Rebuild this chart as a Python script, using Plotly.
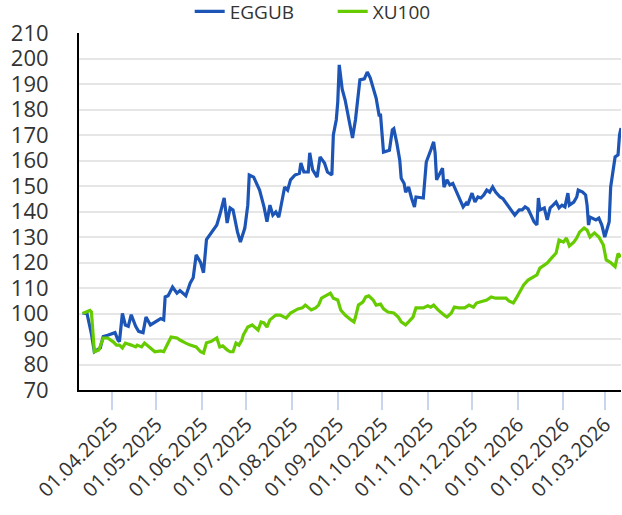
import plotly.graph_objects as go

eggub_dates = [
    "2025-03-12", "2025-03-15", "2025-03-18", "2025-03-20", "2025-03-24", "2025-03-26", "2025-03-29",
    "2025-04-03", "2025-04-05", "2025-04-06", "2025-04-08", "2025-04-10", "2025-04-12", "2025-04-14",
    "2025-04-17", "2025-04-19", "2025-04-22", "2025-04-24", "2025-04-27", "2025-04-30",
    "2025-05-04", "2025-05-06", "2025-05-07", "2025-05-09", "2025-05-12", "2025-05-15", "2025-05-17",
    "2025-05-21", "2025-05-24", "2025-05-26", "2025-05-28", "2025-05-31",
    "2025-06-02", "2025-06-04", "2025-06-07", "2025-06-11", "2025-06-13", "2025-06-16", "2025-06-18",
    "2025-06-20", "2025-06-22", "2025-06-25", "2025-06-27", "2025-06-30",
    "2025-07-02", "2025-07-03", "2025-07-06", "2025-07-09", "2025-07-10", "2025-07-13", "2025-07-15",
    "2025-07-17", "2025-07-19", "2025-07-21", "2025-07-23", "2025-07-24", "2025-07-27", "2025-07-29",
    "2025-07-31",
    "2025-08-03", "2025-08-06", "2025-08-07", "2025-08-09", "2025-08-12", "2025-08-13", "2025-08-15",
    "2025-08-18", "2025-08-20", "2025-08-23", "2025-08-25", "2025-08-28", "2025-08-29", "2025-08-31",
    "2025-09-01", "2025-09-02", "2025-09-04", "2025-09-06", "2025-09-09", "2025-09-11", "2025-09-13",
    "2025-09-16", "2025-09-19", "2025-09-21", "2025-09-23", "2025-09-27", "2025-09-29", "2025-09-30",
    "2025-10-02", "2025-10-06", "2025-10-08", "2025-10-09", "2025-10-11", "2025-10-13", "2025-10-14",
    "2025-10-16", "2025-10-17", "2025-10-19", "2025-10-21", "2025-10-23", "2025-10-24", "2025-10-29",
    "2025-10-31",
    "2025-11-02", "2025-11-03", "2025-11-05", "2025-11-06", "2025-11-07", "2025-11-09", "2025-11-11",
    "2025-11-12", "2025-11-14", "2025-11-16", "2025-11-18", "2025-11-20", "2025-11-22", "2025-11-25",
    "2025-11-27", "2025-11-28",
    "2025-12-01", "2025-12-03", "2025-12-05", "2025-12-07", "2025-12-09", "2025-12-11", "2025-12-13",
    "2025-12-15", "2025-12-17", "2025-12-20", "2025-12-22", "2025-12-26", "2025-12-28", "2025-12-30",
    "2026-01-02", "2026-01-04", "2026-01-06", "2026-01-08", "2026-01-10", "2026-01-12", "2026-01-14",
    "2026-01-15", "2026-01-16", "2026-01-19", "2026-01-21", "2026-01-23", "2026-01-25", "2026-01-27",
    "2026-01-29", "2026-01-31",
    "2026-02-02", "2026-02-04", "2026-02-05", "2026-02-08", "2026-02-10", "2026-02-11", "2026-02-14",
    "2026-02-16", "2026-02-17", "2026-02-18", "2026-02-19", "2026-02-21", "2026-02-23", "2026-02-25",
    "2026-02-27",
    "2026-03-01", "2026-03-03", "2026-03-04", "2026-03-05", "2026-03-07", "2026-03-08", "2026-03-10",
    "2026-03-11", "2026-03-12",
]
eggub_values = [
    100, 100, 92, 85, 86.5, 91, 91.5,
    92.5, 89.6, 89, 100, 95.5, 95, 99.5,
    95, 93, 92.5, 98.6, 95.5, 96.7,
    98, 97.5, 106.5, 107, 110.4, 108, 109,
    107, 112, 114, 123, 120,
    116, 129, 131.5, 134.7, 138.6, 145.3, 135.5,
    141.4, 140.6, 132, 128, 133.5,
    142.5, 154.3, 153.5, 149.2, 148.4, 141.8, 136,
    142.5, 138.6, 139.8, 137.8, 140.6, 149.6, 148.4,
    152.4,
    154.3, 155, 159, 155.5, 155.5, 163, 156.3,
    153.5, 161.4, 159, 155.5, 154.3, 170, 176,
    183, 197.5, 188, 183.7, 174.7, 168.8, 176,
    191.6, 192, 194.7, 192.4, 184.5, 177.8, 177.8,
    163.3, 164, 172, 172.5, 166.9, 160.2, 153,
    151, 147.6, 149.6, 145.3, 141.8, 145.7, 145.3,
    159.4,
    163, 164, 167.3, 163, 152.4, 155, 157,
    149.6, 152.4, 150.4, 151, 148.4, 145.7, 141.8,
    143.3, 142.5,
    147.2, 143.7, 145.7, 145.3, 146.5, 148.4, 147.6,
    149.6, 147.6, 145.7, 145, 141.8, 140.2, 138.6,
    140.6, 140.6, 141.8, 141, 138.6, 136, 134.7,
    145.3, 140.6, 141.4, 136.7, 141.4, 142.5, 143.7,
    141.4, 142.5,
    141.8, 147.2, 142.5, 143.7, 145.7, 148.4, 147.6,
    146.5, 142.5, 134.7, 137.8, 137.4, 136.7, 137.4,
    134.7,
    130, 134, 136, 149.6, 157, 161.4, 162.2,
    170, 172.7,
]

xu100_dates = [
    "2025-03-12", "2025-03-17", "2025-03-18", "2025-03-19", "2025-03-20", "2025-03-23", "2025-03-25",
    "2025-03-26", "2025-03-29",
    "2025-04-02", "2025-04-04", "2025-04-06", "2025-04-08", "2025-04-10", "2025-04-14", "2025-04-17",
    "2025-04-18", "2025-04-21", "2025-04-23", "2025-04-25", "2025-04-27", "2025-04-30",
    "2025-05-04", "2025-05-06", "2025-05-08", "2025-05-11", "2025-05-15", "2025-05-17", "2025-05-21",
    "2025-05-24", "2025-05-28", "2025-05-31",
    "2025-06-02", "2025-06-04", "2025-06-07", "2025-06-11", "2025-06-13", "2025-06-15", "2025-06-18",
    "2025-06-20", "2025-06-22", "2025-06-24", "2025-06-26", "2025-06-28", "2025-06-29",
    "2025-07-02", "2025-07-05", "2025-07-09", "2025-07-11", "2025-07-13", "2025-07-15", "2025-07-17",
    "2025-07-21", "2025-07-24", "2025-07-28", "2025-07-31",
    "2025-08-05", "2025-08-08", "2025-08-10", "2025-08-14", "2025-08-17", "2025-08-19", "2025-08-21",
    "2025-08-25", "2025-08-27", "2025-08-29",
    "2025-09-01", "2025-09-03", "2025-09-06", "2025-09-10", "2025-09-12", "2025-09-13", "2025-09-15",
    "2025-09-18", "2025-09-20", "2025-09-22", "2025-09-25", "2025-09-27", "2025-09-30",
    "2025-10-02", "2025-10-05", "2025-10-09", "2025-10-12", "2025-10-14", "2025-10-17", "2025-10-19",
    "2025-10-22", "2025-10-24", "2025-10-29",
    "2025-11-01", "2025-11-03", "2025-11-05", "2025-11-08", "2025-11-12", "2025-11-14", "2025-11-17",
    "2025-11-19", "2025-11-22", "2025-11-26", "2025-11-29",
    "2025-12-02", "2025-12-04", "2025-12-07", "2025-12-11", "2025-12-14", "2025-12-17", "2025-12-21",
    "2025-12-24", "2025-12-26", "2025-12-29", "2025-12-31",
    "2026-01-02", "2026-01-05", "2026-01-08", "2026-01-12", "2026-01-14", "2026-01-16", "2026-01-19",
    "2026-01-21", "2026-01-24", "2026-01-27", "2026-01-29",
    "2026-02-01", "2026-02-03", "2026-02-05", "2026-02-08", "2026-02-10", "2026-02-12", "2026-02-15",
    "2026-02-17", "2026-02-19", "2026-02-22", "2026-02-25", "2026-02-28",
    "2026-03-02", "2026-03-05", "2026-03-08", "2026-03-10", "2026-03-12",
]
xu100_values = [
    100, 101.2, 100.6, 92.4, 85, 85.7, 88.8,
    90.4, 90.4,
    88.8, 87.6, 87.6, 86.5, 88.4, 87.6, 86.9,
    87.6, 86.9, 88.4, 87.6, 86.5, 85,
    85.3, 85, 87.6, 90.8, 90.4, 89.6, 88.4,
    87.6, 86.9, 85,
    84.5, 88.5, 89, 90.4, 86.9, 87.3, 85.7,
    85, 85, 88.4, 87.6, 89.6, 91.6,
    94.7, 95.5, 93.5, 96.7, 96.3, 94.7, 97.5,
    99.4, 99.4, 98.2, 100.2,
    101.8, 102.2, 103.3, 101.4, 102.2, 103.3, 106,
    107.3, 108, 106,
    105.3, 101.4, 99.4, 97.5, 96.7, 98.6, 103.3,
    104.5, 106.5, 106.9, 105.3, 103.3, 103.7,
    101.8, 100.6, 100.2, 98.6, 96.7, 95.5, 96.7,
    98.6, 102.2, 102.2,
    103, 102.5, 103.3, 101.4, 99.4, 98.6, 100.2,
    102.5, 102.2, 102.2, 103.3,
    102.5, 104.1, 104.5, 105.3, 106.5, 106, 106,
    106, 104.9, 104.1, 106,
    108, 111.2, 113.1, 114.3, 115.1, 117.8, 119,
    119.8, 121.8, 123.7, 128.8,
    128, 129.6, 126.5, 128, 129.6, 132, 133.5,
    132.7, 130, 131.6, 130, 126.9,
    121, 120, 118.4, 123.5, 122.2,
]

tick_dates = [
    "2025-04-01", "2025-05-01", "2025-06-01", "2025-07-01", "2025-08-01", "2025-09-01",
    "2025-10-01", "2025-11-01", "2025-12-01", "2026-01-01", "2026-02-01", "2026-03-01",
]
tick_labels = [
    "01.04.2025", "01.05.2025", "01.06.2025", "01.07.2025", "01.08.2025", "01.09.2025",
    "01.10.2025", "01.11.2025", "01.12.2025", "01.01.2026", "01.02.2026", "01.03.2026",
]
y_ticks = list(range(70, 211, 10))

FONT = "Open Sans"
TEXT = "#333333"

fig = go.Figure()
fig.add_trace(go.Scatter(x=eggub_dates, y=eggub_values, mode="lines", name="EGGUB",
                         line=dict(color="#1c55b5", width=3.2)))
fig.add_trace(go.Scatter(x=xu100_dates, y=xu100_values, mode="lines", name="XU100",
                         line=dict(color="#66cc00", width=3.2)))

fig.update_layout(
    width=622, height=515,
    margin=dict(l=79, r=1, t=33, b=125, autoexpand=False),
    paper_bgcolor="white", plot_bgcolor="white",
    font=dict(family=FONT, color=TEXT),
    showlegend=True,
    legend=dict(orientation="h", xref="container", yref="paper",
                x=0.305, xanchor="left", y=1.06, yanchor="middle",
                font=dict(size=19, color=TEXT, family=FONT),
                entrywidth=98, entrywidthmode="pixels",
                bgcolor="rgba(0,0,0,0)"),
    xaxis=dict(type="date", range=["2025-03-09 14:00", "2026-03-12 00:00"],
               tickvals=tick_dates, ticktext=tick_labels, tickangle=-45,
               ticks="outside", ticklen=18, tickwidth=2, tickcolor="#c9d5ec",
               tickfont=dict(size=20, color=TEXT, family=FONT),
               ticklabelstandoff=-5,
               automargin=False,
               showgrid=False, zeroline=False,
               showline=True, linecolor="black", linewidth=2),
    yaxis=dict(range=[70, 210], tickvals=y_ticks, ticks="",
               tickfont=dict(size=22, color=TEXT, family=FONT),
               ticklabelstandoff=24, automargin=False,
               showgrid=True, gridcolor="#e6e6e6", gridwidth=2,
               zeroline=False, showline=True, linecolor="black", linewidth=2),
)

fig.write_html("out.html", config={"displayModeBar": False},
               post_script="document.body.style.margin='0';")
